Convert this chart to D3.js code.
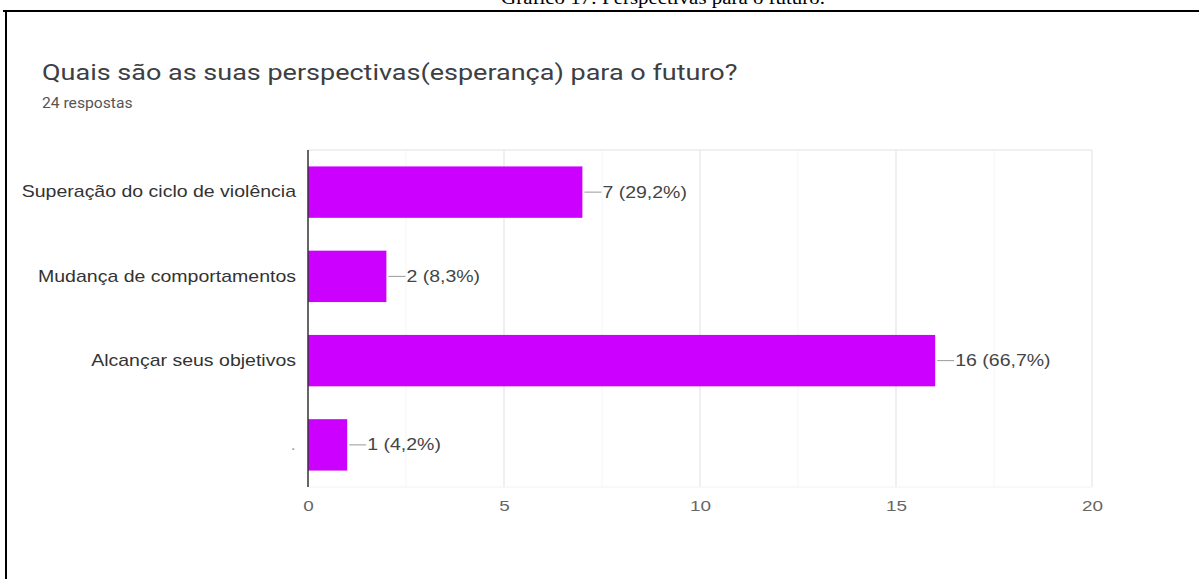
<!DOCTYPE html>
<html>
<head>
<meta charset="utf-8">
<script src="https://cdn.jsdelivr.net/npm/d3@7/dist/d3.min.js"></script>
<style>
  html, body { margin: 0; padding: 0; background: #fff; }
  svg { display: block; }
</style>
</head>
<body>
<svg id="chart" width="1199" height="579"></svg>
<script>
// Survey results: "Quais são as suas perspectivas(esperança) para o futuro?"
const categories = [
  "Superação do ciclo de violência",
  "Mudança de comportamentos",
  "Alcançar seus objetivos",
  "."
];
const counts = [7, 2, 16, 1];
const percentLabels = ["29,2%", "8,3%", "66,7%", "4,2%"];
const xTicks = [0, 5, 10, 15, 20];
const totalResponses = 24;

const svg = d3.select("#chart");
const W = 1199, H = 579;
// The screenshot is slightly widened, so text glyphs are stretched horizontally
const SX = 1.22;

// Place a stretched text at (px, py)
function stretchedText(parent, px, py, sx) {
  return parent.append("text")
    .attr("transform", `translate(${px},${py}) scale(${sx},1)`);
}

// Figure caption above the frame (its upper part falls off the page)
stretchedText(svg, 663, 4, 1.1)
  .attr("text-anchor", "middle")
  .attr("font-family", "'Liberation Serif', 'Times New Roman', serif")
  .attr("font-size", 19)
  .attr("fill", "#000")
  .text("Gráfico 17: Perspectivas para o futuro.");

// Frame: top and left rules
svg.append("line").attr("x1", 3).attr("x2", W).attr("y1", 11).attr("y2", 11)
  .attr("stroke", "#000").attr("stroke-width", 2);
svg.append("line").attr("x1", 6).attr("x2", 6).attr("y1", 11).attr("y2", H)
  .attr("stroke", "#000").attr("stroke-width", 2);

// Title and subtitle
stretchedText(svg, 42, 80, 1.2)
  .attr("font-family", "Roboto, 'Noto Sans', sans-serif")
  .attr("font-size", 22.5)
  .attr("fill", "#3c4043")
  .text("Quais são as suas perspectivas(esperança) para o futuro?");
stretchedText(svg, 42, 108, 1.08)
  .attr("font-family", "Roboto, 'Noto Sans', sans-serif")
  .attr("font-size", 14.5)
  .attr("fill", "#555")
  .text(`${totalResponses} respostas`);

// Plot area
const plot = { left: 308, right: 1092, top: 150, bottom: 487 };

const x = d3.scaleLinear().domain([0, 20]).range([plot.left, plot.right]);
const y = d3.scaleBand().domain(categories).range([plot.top, plot.bottom]).paddingInner(0.39).paddingOuter(0.195);

const g = svg.append("g");

// Gridlines (major every 5, minor every 2.5)
const minorTicks = d3.range(2.5, 20, 5);
g.selectAll("line.minor").data(minorTicks).join("line")
  .attr("class", "minor")
  .attr("x1", d => x(d)).attr("x2", d => x(d))
  .attr("y1", plot.top).attr("y2", plot.bottom)
  .attr("stroke", "#f5f5f5").attr("stroke-width", 1);
g.selectAll("line.major").data(xTicks.slice(1)).join("line")
  .attr("class", "major")
  .attr("x1", d => x(d)).attr("x2", d => x(d))
  .attr("y1", plot.top).attr("y2", plot.bottom)
  .attr("stroke", "#ebebeb").attr("stroke-width", 1.5);
g.append("line")
  .attr("x1", plot.left).attr("x2", plot.right)
  .attr("y1", plot.top).attr("y2", plot.top)
  .attr("stroke", "#ebebeb").attr("stroke-width", 1.5);
g.append("line")
  .attr("x1", plot.left).attr("x2", plot.right)
  .attr("y1", plot.bottom).attr("y2", plot.bottom)
  .attr("stroke", "#f2f2f2").attr("stroke-width", 1);

// Bars
g.selectAll("rect.bar").data(categories).join("rect")
  .attr("class", "bar")
  .attr("x", x(0))
  .attr("y", d => y(d))
  .attr("width", (d, i) => x(counts[i]) - x(0))
  .attr("height", y.bandwidth())
  .attr("fill", "#cc00ff");

// Baseline axis
g.append("line")
  .attr("x1", x(0)).attr("x2", x(0))
  .attr("y1", plot.top).attr("y2", plot.bottom)
  .attr("stroke", "#333").attr("stroke-width", 1.5);

// Category labels
const yAxis = d3.axisLeft(y).tickSize(0).tickPadding(12);
const yg = svg.append("g").attr("transform", `translate(${plot.left},0)`).call(yAxis);
yg.select(".domain").remove();
yg.selectAll("text")
  .attr("x", -12 / SX)
  .attr("transform", `scale(${SX},1)`)
  .attr("font-family", "Arial, 'Liberation Sans', sans-serif")
  .attr("font-size", 16)
  .attr("fill", "#333");
yg.selectAll(".tick").filter(d => d === ".").select("text").attr("fill", "#aaa");

// X-axis tick labels
const xAxis = d3.axisBottom(x).tickValues(xTicks).tickSize(0).tickPadding(13);
const xg = svg.append("g").attr("transform", `translate(0,${plot.bottom})`).call(xAxis);
xg.select(".domain").remove();
xg.selectAll("text")
  .attr("transform", `scale(${SX},1)`)
  .attr("font-family", "Arial, 'Liberation Sans', sans-serif")
  .attr("font-size", 15.5)
  .attr("fill", "#666");

// Value annotations with leader lines
const ann = g.selectAll("g.ann").data(categories).join("g").attr("class", "ann");
ann.append("line")
  .attr("x1", (d, i) => x(counts[i]) + 2)
  .attr("x2", (d, i) => x(counts[i]) + 19)
  .attr("y1", d => y(d) + y.bandwidth() / 2)
  .attr("y2", d => y(d) + y.bandwidth() / 2)
  .attr("stroke", "#999").attr("stroke-width", 1);
ann.each(function (d, i) {
  stretchedText(d3.select(this), x(counts[i]) + 20, y(d) + y.bandwidth() / 2, SX)
    .attr("dy", "0.35em")
    .attr("font-family", "Arial, 'Liberation Sans', sans-serif")
    .attr("font-size", 16)
    .attr("fill", "#444")
    .text(`${counts[i]} (${percentLabels[i]})`);
});
</script>
</body>
</html>
